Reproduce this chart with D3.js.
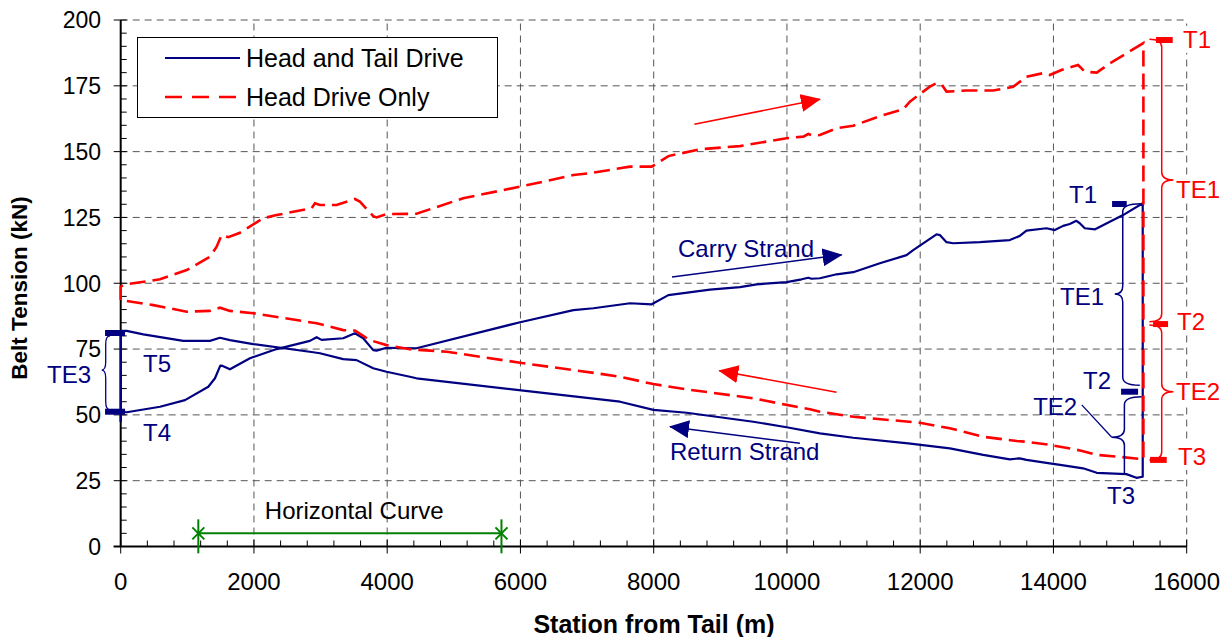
<!DOCTYPE html>
<html>
<head>
<meta charset="utf-8">
<script src="https://cdn.jsdelivr.net/npm/d3@7"></script>
<style>
  body { margin: 0; background: #fff; }
  text { font-family: "Liberation Sans", Arial, sans-serif; }
</style>
</head>
<body>
<div class="chart"></div>
<script>
var width = 1229, height = 637

// Head and Tail Drive: carry strand, drop at head, return strand
var htdCarry = [[0,51.2],[90,51],[590,53.1],[965,55.6],[1315,60.7],[1415,63.9],[1495,68.7],[1530,68.6],[1640,67.3],[1940,71.5],[2340,75.0],[2840,78.1],[2940,79.5],[3015,78.5],[3340,79.1],[3515,81.0],[3640,79.1],[3790,74.6],[3840,74.4],[3990,75.5],[4440,75.3],[5995,85.2],[6795,89.8],[7095,90.5],[7645,92.4],[7970,92.0],[8220,95.5],[8845,97.6],[9295,98.5],[9545,99.6],[9995,100.4],[10220,101.5],[10320,102.1],[10370,101.7],[10495,101.9],[10745,103.4],[10995,104.2],[11395,107.6],[11795,110.7],[11895,112.6],[12245,118.6],[12295,118.3],[12395,115.6],[12495,115.2],[12895,115.6],[13345,116.4],[13495,118.0],[13595,120.0],[13895,120.9],[14020,120.2],[14145,121.8],[14245,122.5],[14345,123.7],[14395,122.8],[14470,120.9],[14625,120.5],[15045,125.9],[15340,130.4]]
var htdReturn = [[15340,26.5],[15245,26.1],[15095,27.5],[14650,28.0],[14445,29.7],[14100,31.0],[13945,31.6],[13595,32.9],[13495,33.5],[13345,33.1],[12945,34.8],[12445,37.3],[11820,39.2],[10995,41.3],[10495,43.0],[9995,45.3],[9495,47.4],[8495,50.8],[7995,51.9],[7495,55.0],[5945,59.5],[4440,63.9],[4340,64.5],[3990,66.4],[3790,67.7],[3540,70.8],[3340,71.2],[2990,73.4],[2890,73.8],[1990,76.9],[1640,78.4],[1490,79.3],[1340,78.1],[940,78.1],[340,80.6],[90,81.9],[0,81.9]]

// Head Drive Only
var hdoCarry = [[0,93.6],[0,98.7],[60,99.5],[590,101.5],[990,105.0],[1340,110.1],[1440,113.9],[1515,118.3],[1615,117.5],[1790,119.2],[2140,124.7],[2340,125.9],[2865,128.5],[2915,130.4],[2990,129.7],[3240,129.7],[3515,132.0],[3590,131.0],[3790,125.5],[3840,125.0],[3990,126.3],[4440,126.4],[5140,132.3],[5995,136.7],[6795,141.1],[7095,142.0],[7645,144.3],[7970,144.3],[8220,148.3],[8695,150.9],[9295,152.1],[9995,155.1],[10245,155.7],[10320,156.7],[10395,156.1],[10495,156.3],[10745,158.9],[10995,159.8],[11395,163.5],[11745,166.1],[11845,169.0],[12145,174.7],[12245,176.0],[12320,175.6],[12395,172.8],[12695,173.2],[13095,173.2],[13395,174.6],[13520,177.0],[13570,178.3],[13845,179.8],[13945,179.1],[14120,181.0],[14370,182.9],[14470,180.4],[14650,180.0],[14850,183.6],[15350,191.2]]
var hdoReturn = [[15350,33.1],[14975,34.1],[14650,34.8],[14400,36.5],[14100,37.9],[13945,38.6],[13595,39.8],[13445,40.1],[12945,41.7],[12445,44.9],[11995,47.0],[10995,49.3],[10495,51.2],[10345,52.1],[9995,53.8],[9495,56.3],[8495,59.7],[7995,61.7],[7495,64.5],[7145,65.8],[5995,69.8],[4895,74.0],[4340,74.9],[3990,76.5],[3740,78.4],[3640,80.0],[3515,82.0],[3340,82.2],[2940,84.8],[2840,85.2],[1990,88.6],[1640,89.5],[1490,90.7],[1340,89.5],[990,89.2],[490,91.7],[15,93.6],[0,93.6]]

var xTicks = [0,2000,4000,6000,8000,10000,12000,14000,16000]
var yTicks = [0,25,50,75,100,125,150,175,200]
var legendNames = ["Head and Tail Drive", "Head Drive Only"]
var curveStart = 1165, curveEnd = 5715, curveLevel = 5

var blue = "#000080", red = "#ff0000", green = "#008000"

var svg = d3.select(".chart").append("svg")
    .attr("width", width)
    .attr("height", height)

var x = d3.scaleLinear().domain([0, 16000]).range([120.7, 1186.7])
var y = d3.scaleLinear().domain([0, 200]).range([546.5, 20])

var defs = svg.append("defs")
function arrowMarker(id, color) {
  defs.append("marker")
      .attr("id", id)
      .attr("markerUnits", "userSpaceOnUse")
      .attr("markerWidth", 20).attr("markerHeight", 18)
      .attr("refX", 19).attr("refY", 9)
      .attr("orient", "auto")
    .append("path")
      .attr("d", "M0,0L20,9L0,18Z")
      .attr("fill", color)
}
arrowMarker("arrRed", red)
arrowMarker("arrBlue", blue)

// grid
svg.append("g").selectAll("line").data(yTicks.slice(1)).enter().append("line")
    .attr("x1", x(0)).attr("x2", x(16000))
    .attr("y1", function(d) { return y(d) }).attr("y2", function(d) { return y(d) })
    .attr("stroke", "#555").attr("stroke-dasharray", "7,5")
svg.append("g").selectAll("line").data(xTicks.slice(1)).enter().append("line")
    .attr("y1", y(0)).attr("y2", y(200))
    .attr("x1", function(d) { return x(d) }).attr("x2", function(d) { return x(d) })
    .attr("stroke", "#555").attr("stroke-dasharray", "7,5")

// axes
var ax = svg.append("g").attr("stroke", "#000")
ax.append("line").attr("x1", x(0)).attr("x2", x(0)).attr("y1", y(0)).attr("y2", y(200)).attr("stroke-width", 2)
ax.append("line").attr("x1", x(0) - 7).attr("x2", x(16000)).attr("y1", y(0)).attr("y2", y(0)).attr("stroke-width", 2)
ax.selectAll(".ymaj").data(yTicks).enter().append("line")
    .attr("x1", x(0) - 7).attr("x2", x(0) + 6)
    .attr("y1", function(d) { return y(d) }).attr("y2", function(d) { return y(d) })
ax.selectAll(".ymin").data(d3.range(5, 200, 5).filter(function(d) { return d % 25 }))
  .enter().append("line")
    .attr("x1", x(0)).attr("x2", x(0) + 6)
    .attr("y1", function(d) { return y(d) }).attr("y2", function(d) { return y(d) })
ax.selectAll(".xmaj").data(xTicks).enter().append("line")
    .attr("y1", y(0) - 7).attr("y2", y(0) + 7)
    .attr("x1", function(d) { return x(d) }).attr("x2", function(d) { return x(d) })
ax.selectAll(".xmin").data(d3.range(400, 16000, 400).filter(function(d) { return d % 2000 }))
  .enter().append("line")
    .attr("y1", y(0) - 6).attr("y2", y(0))
    .attr("x1", function(d) { return x(d) }).attr("x2", function(d) { return x(d) })

svg.append("g").selectAll("text").data(yTicks).enter().append("text")
    .attr("x", 101).attr("y", function(d) { return y(d) }).attr("dy", "0.36em")
    .attr("text-anchor", "end").attr("font-size", 23)
    .text(function(d) { return d })
svg.append("g").selectAll("text").data(xTicks).enter().append("text")
    .attr("x", function(d) { return x(d) }).attr("y", 590)
    .attr("text-anchor", "middle").attr("font-size", 24)
    .text(function(d) { return d })

svg.append("text").attr("x", 654).attr("y", 633)
    .attr("text-anchor", "middle").attr("font-size", 25).attr("font-weight", "bold")
    .text("Station from Tail (m)")
svg.append("text").attr("transform", "translate(27,288) rotate(-90)")
    .attr("text-anchor", "middle").attr("font-size", 22.5).attr("font-weight", "bold")
    .text("Belt Tension (kN)")

// series
var line = d3.line().x(function(d) { return x(d[0]) }).y(function(d) { return y(d[1]) })
svg.append("path").attr("d", line(htdCarry.concat(htdReturn)))
    .attr("fill", "none").attr("stroke", blue).attr("stroke-width", 2.2).attr("stroke-linejoin", "round")
svg.append("path").attr("d", line(hdoCarry.concat(hdoReturn)))
    .attr("fill", "none").attr("stroke", red).attr("stroke-width", 2.6).attr("stroke-dasharray", "16,7")

// horizontal curve
var hc = svg.append("g").attr("stroke", green).attr("stroke-width", 2)
hc.append("line").attr("x1", x(curveStart)).attr("x2", x(curveEnd)).attr("y1", y(curveLevel)).attr("y2", y(curveLevel))
;[curveStart, curveEnd].forEach(function(v) {
  var cx = x(v), cy = y(curveLevel)
  hc.append("line").attr("x1", cx).attr("x2", cx).attr("y1", cy - 14).attr("y2", cy + 20)
  hc.append("line").attr("x1", cx - 6).attr("x2", cx + 6).attr("y1", cy - 6).attr("y2", cy + 6)
  hc.append("line").attr("x1", cx - 6).attr("x2", cx + 6).attr("y1", cy + 6).attr("y2", cy - 6)
})
svg.append("text").attr("x", x(3505)).attr("y", y(10.4)).attr("text-anchor", "middle")
    .attr("font-size", 24).text("Horizontal Curve")

// flow arrows
function arrow(x1, y1, x2, y2, color, id) {
  svg.append("line").attr("x1", x(x1)).attr("y1", y(y1)).attr("x2", x(x2)).attr("y2", y(y2))
      .attr("stroke", color).attr("stroke-width", 1.5).attr("marker-end", "url(#" + id + ")")
}
arrow(8610, 160.4, 10495, 169.9, red, "arrRed")
arrow(10745, 58.6, 8985, 66.8, red, "arrRed")
arrow(8275, 102.4, 10820, 110.8, blue, "arrBlue")
arrow(10195, 39.2, 8245, 45.5, blue, "arrBlue")

// braces
function brace(tx1, y1, sx, px, ym, y2, tx2, color, w) {
  var r = 8
  var X1 = x(tx1), Y1 = y(y1), S = x(sx), P = x(px), M = y(ym), Y2 = y(y2), X2 = x(tx2)
  var d = "M" + X1 + "," + Y1 +
    (X1 === S ? "" : "Q" + S + "," + Y1 + " " + S + "," + (Y1 + r)) +
    "L" + S + "," + (M - r) + "Q" + S + "," + M + " " + P + "," + M +
    "Q" + S + "," + M + " " + S + "," + (M + r) +
    "L" + S + "," + (Y2 - (X2 === S ? 0 : r)) +
    (X2 === S ? "" : "Q" + S + "," + Y2 + " " + X2 + "," + Y2)
  svg.append("path").attr("d", d).attr("fill", "none").attr("stroke", color).attr("stroke-width", w || 1.5)
}
brace(-160, 80.0, -225, -285, 67.0, 51.9, -160, blue, 1.3)
brace(15310, 130.2, 15040, 14920, 95.9, 61.3, 15295, blue)
brace(15325, 56.9, 15065, 14875, 41.5, 27.2, 15065, blue)
brace(15440, 192.7, 15625, 15800, 139.2, 85.4, 15440, red)
brace(15440, 84.1, 15625, 15800, 58.8, 32.9, 15440, red)
svg.append("line").attr("x1", x(14875)).attr("y1", y(41.5)).attr("x2", x(14425)).attr("y2", y(53.8))
    .attr("stroke", blue).attr("stroke-width", 1.3)
svg.append("line").attr("x1", x(0)).attr("x2", x(0)).attr("y1", y(81.9)).attr("y2", y(47.3))
    .attr("stroke", blue).attr("stroke-width", 2.5)

// tension markers
var marks = [[-235, 65, 81.1, blue], [-235, 65, 51.2, blue], [14880, 15100, 130.1, blue], [15015, 15270, 58.8, blue],
             [15540, 15790, 192.4, red], [15495, 15720, 84.5, red], [15450, 15700, 32.9, red]]
svg.append("g").selectAll("rect").data(marks).enter().append("rect")
    .attr("x", function(d) { return x(d[0]) }).attr("width", function(d) { return x(d[1]) - x(d[0]) })
    .attr("y", function(d) { return y(d[2]) - 3 }).attr("height", 6)
    .attr("fill", function(d) { return d[3] })

// labels
var labels = [["T5", 335, 66.3, blue, "start"], ["T4", 335, 40.1, blue, "start"], ["TE3", -445, 62.1, blue, "end"],
              ["T1", 14235, 130.5, blue, "start"], ["TE1", 14100, 91.7, blue, "start"], ["T2", 14445, 59.8, blue, "start"],
              ["TE2", 13695, 49.9, blue, "start"], ["T3", 14805, 16.1, blue, "start"],
              ["Carry Strand", 8365, 110.0, blue, "start"], ["Return Strand", 8245, 32.9, blue, "start"],
              ["T1", 15945, 189.4, red, "start"], ["TE1", 15840, 132.3, red, "start"], ["T2", 15855, 82.2, red, "start"],
              ["TE2", 15840, 55.6, red, "start"], ["T3", 15870, 31.0, red, "start"]]
labels.forEach(function(l) {
  var t = svg.append("text").attr("x", x(l[1])).attr("y", y(l[2]))
      .attr("text-anchor", l[4]).attr("font-size", 24).attr("fill", l[3]).text(l[0])
  if (l[3] === red) {
    var b = t.node().getBBox()
    svg.insert("rect", function() { return t.node() })
        .attr("x", b.x).attr("y", b.y).attr("width", b.width).attr("height", b.height).attr("fill", "#fff")
  }
})

// legend
var lg = svg.append("g")
lg.append("rect").attr("x", 137.5).attr("y", 37.5).attr("width", 360).attr("height", 80)
    .attr("fill", "#fff").attr("stroke", "#000").attr("stroke-width", 1)
lg.append("line").attr("x1", 165).attr("x2", 240).attr("y1", 58).attr("y2", 58)
    .attr("stroke", blue).attr("stroke-width", 2.2)
lg.append("line").attr("x1", 165).attr("x2", 240).attr("y1", 97).attr("y2", 97)
    .attr("stroke", red).attr("stroke-width", 2.6).attr("stroke-dasharray", "17,10")
lg.selectAll("text").data(legendNames).enter().append("text")
    .attr("x", 246).attr("y", function(d, i) { return 58 + i * 39 }).attr("dy", "0.36em")
    .attr("font-size", 25).text(function(d) { return d })
</script>
</body>
</html>
